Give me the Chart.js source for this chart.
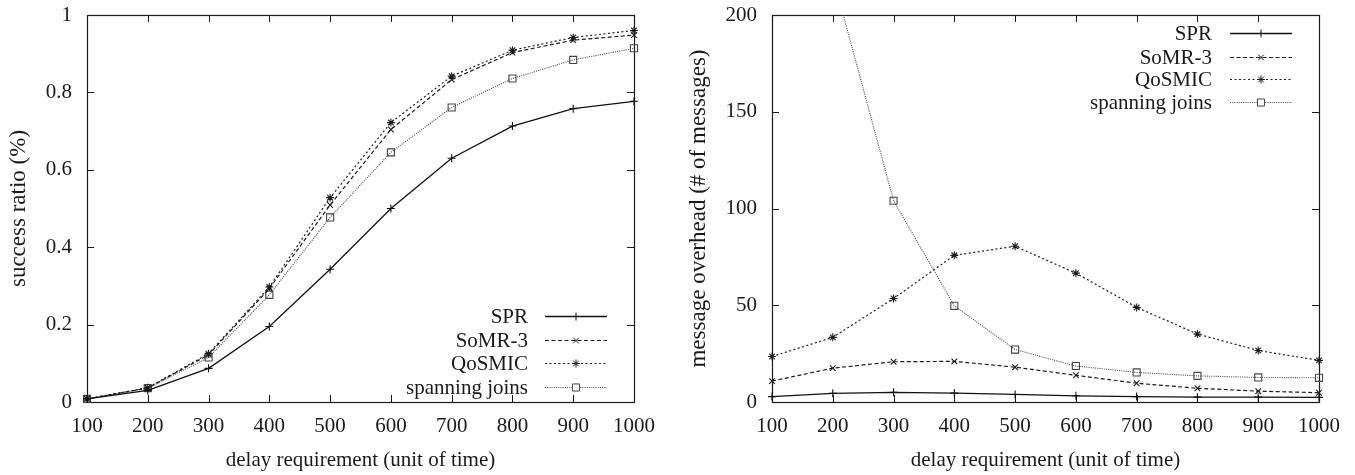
<!DOCTYPE html>
<html>
<head>
<meta charset="utf-8">
<script src="https://cdn.jsdelivr.net/npm/chart.js@4/dist/chart.umd.min.js"></script>
<style>
  html, body { margin: 0; padding: 0; background: #fff; }
  #wrap { position: relative; width: 1355px; height: 475px; }
  #c1 { position: absolute; left: 0; top: 0; }
  #c2 { position: absolute; left: 680px; top: 0; }
</style>
</head>
<body>
<div id="wrap">
  <canvas id="c1" width="680" height="475"></canvas>
  <canvas id="c2" width="675" height="475"></canvas>
</div>
<script>
// ---------- data ----------
const delays = [100, 200, 300, 400, 500, 600, 700, 800, 900, 1000];
const seriesNames = ['SPR', 'SoMR-3', 'QoSMIC', 'spanning joins'];

// success ratio
const successSPR      = [0.008, 0.030, 0.087, 0.195, 0.343, 0.500, 0.630, 0.713, 0.758, 0.777];
const successSoMR3    = [0.008, 0.036, 0.122, 0.293, 0.509, 0.704, 0.833, 0.903, 0.935, 0.948];
const successQoSMIC   = [0.008, 0.037, 0.125, 0.297, 0.528, 0.722, 0.842, 0.909, 0.942, 0.960];
const successSpanning = [0.008, 0.036, 0.115, 0.277, 0.477, 0.645, 0.761, 0.836, 0.884, 0.914];

// message overhead
const overheadSPR      = [2.8, 4.5, 5.0, 4.6, 3.9, 3.2, 2.8, 2.5, 2.5, 2.4];
const overheadSoMR3    = [10.8, 17.5, 20.8, 21.0, 18.0, 13.8, 9.7, 7.1, 5.6, 4.8];
const overheadQoSMIC   = [23.5, 33.4, 53.5, 75.8, 80.5, 66.6, 48.9, 35.1, 26.6, 21.5];
const overheadSpanning = [400, 220, 104, 49.7, 27.1, 18.6, 15.3, 13.5, 12.7, 12.5];

// tick labels
const xTickValues = delays;
const yTicksSuccess = [0, 0.2, 0.4, 0.6, 0.8, 1];
const yTickLabelsSuccess = ['0', '0.2', '0.4', '0.6', '0.8', '1'];
const yTicksOverhead = [0, 50, 100, 150, 200];
const yTickLabelsOverhead = ['0', '50', '100', '150', '200'];

const xTitle = 'delay requirement (unit of time)';
const yTitleSuccess = 'success ratio (%)';
const yTitleOverhead = 'message overhead (# of messages)';

// ---------- styles ----------
const FONT = "'Liberation Serif', 'DejaVu Serif', serif";
const INK = '#1a1a1a';
const styles = [
  { color: '#111', dash: [], width: 1.3, pointStyle: 'cross', radius: 4 },
  { color: '#1c1c1c', dash: [4, 2.5], width: 1.2, pointStyle: 'crossRot', radius: 4 },
  { color: '#1c1c1c', dash: [2, 2.5], width: 1.2, pointStyle: 'star', radius: 4 },
  { color: '#444', dash: [1, 1.2], width: 1.1, pointStyle: 'rect', radius: 5 }
];

function makeDatasets(arrays) {
  return arrays.map((arr, i) => ({
    label: seriesNames[i],
    data: arr,
    borderColor: styles[i].color,
    backgroundColor: 'rgba(0,0,0,0)',
    borderWidth: styles[i].width,
    borderDash: styles[i].dash,
    pointStyle: styles[i].pointStyle,
    pointRadius: styles[i].radius,
    pointBorderColor: styles[i].color,
    pointBackgroundColor: 'rgba(0,0,0,0)',
    pointBorderWidth: 1.1,
    tension: 0,
    fill: false,
    clip: { left: 10, right: 10, top: 0, bottom: 10 }
  }));
}

// frame with inward mirrored ticks
const framePlugin = {
  id: 'gnuframe',
  beforeDatasetsDraw(chart) {
    const { ctx, chartArea: a, scales } = chart;
    ctx.save();
    ctx.strokeStyle = INK;
    ctx.lineWidth = 1.2;
    ctx.setLineDash([]);
    ctx.strokeRect(Math.round(a.left) + 0.5, Math.round(a.top) + 0.5,
                   Math.round(a.right - a.left), Math.round(a.bottom - a.top));
    const tl = 7;
    ctx.lineWidth = 1;
    ctx.beginPath();
    scales.x.ticks.forEach((t, i) => {
      const px = Math.round(scales.x.getPixelForTick(i)) + 0.5;
      ctx.moveTo(px, a.bottom); ctx.lineTo(px, a.bottom - tl);
      ctx.moveTo(px, a.top); ctx.lineTo(px, a.top + tl);
    });
    scales.y.ticks.forEach((t, i) => {
      const py = Math.round(scales.y.getPixelForTick(i)) + 0.5;
      ctx.moveTo(a.left, py); ctx.lineTo(a.left + tl, py);
      ctx.moveTo(a.right, py); ctx.lineTo(a.right - tl, py);
    });
    ctx.stroke();
    ctx.restore();
  }
};

function drawMarker(ctx, style, x, y) {
  if (Chart.helpers && Chart.helpers.drawPoint) {
    Chart.helpers.drawPoint(ctx, { pointStyle: style.pointStyle, radius: style.radius, borderWidth: 1.1, rotation: 0 }, x, y);
  }
}

// gnuplot-like legend inside the plot
const legendPlugin = {
  id: 'gnulegend',
  afterDatasetsDraw(chart, args, opts) {
    const { ctx, chartArea: a } = chart;
    ctx.save();
    ctx.font = '21px ' + FONT;
    ctx.textAlign = 'right';
    ctx.textBaseline = 'middle';
    chart.data.datasets.forEach((ds, i) => {
      const st = styles[i];
      const y = opts.anchor === 'bottom' ? a.bottom - opts.rows[i] : a.top + opts.rows[i];
      ctx.fillStyle = INK;
      ctx.fillText(ds.label, a.right - opts.textRight, y + 1);
      const x1 = a.right - opts.lineStart, x2 = a.right - opts.lineEnd;
      ctx.strokeStyle = st.color;
      ctx.lineWidth = st.width;
      ctx.setLineDash(st.dash);
      ctx.beginPath();
      ctx.moveTo(x1, y + 0.5); ctx.lineTo(x2, y + 0.5);
      ctx.stroke();
      ctx.setLineDash([]);
      ctx.lineWidth = 1;
      ctx.strokeStyle = st.color;
      ctx.fillStyle = '#fff';
      drawMarker(ctx, st, (x1 + x2) / 2, y + 0.5);
    });
    ctx.restore();
  }
};

function makeChart(id, arrays, yTicks, yLabels, yTitle, yWidth, rightPad, legendOpts) {
  const yMin = yTicks[0], yMax = yTicks[yTicks.length - 1];
  return new Chart(document.getElementById(id), {
    type: 'line',
    data: { labels: xTickValues, datasets: makeDatasets(arrays) },
    plugins: [framePlugin, legendPlugin],
    options: {
      responsive: false,
      animation: false,
      layout: { padding: { left: 0, right: rightPad, top: 15, bottom: 0 } },
      plugins: {
        legend: { display: false },
        tooltip: { enabled: false },
        gnulegend: legendOpts
      },
      scales: {
        x: {
          type: 'category',
          offset: false,
          grid: { display: false, drawTicks: false },
          border: { display: false },
          ticks: {
            color: INK, font: { family: FONT, size: 21 }, padding: 12,
            maxRotation: 0, autoSkip: false
          },
          title: {
            display: true, text: xTitle, color: INK,
            font: { family: FONT, size: 21 }, padding: { top: 0, bottom: 2 }
          },
          afterFit(s) { s.height = 73; s.paddingLeft = 0; s.paddingRight = 0; }
        },
        y: {
          type: 'linear',
          min: yMin, max: yMax,
          grid: { display: false, drawTicks: false },
          border: { display: false },
          afterBuildTicks(s) { s.ticks = yTicks.map(v => ({ value: v })); },
          ticks: {
            color: INK, font: { family: FONT, size: 21 }, padding: 15,
            callback(v) { const k = yTicks.indexOf(v); return k >= 0 ? yLabels[k] : ''; }
          },
          title: {
            display: true, text: yTitle, color: INK,
            font: { family: FONT, size: 23 }, padding: { top: 5, bottom: 0 }
          },
          afterFit(s) { s.width = yWidth; s.paddingTop = 0; s.paddingBottom = 0; }
        }
      }
    }
  });
}

makeChart('c1', [successSPR, successSoMR3, successQoSMIC, successSpanning],
  yTicksSuccess, yTickLabelsSuccess, yTitleSuccess, 87, 46,
  { anchor: 'bottom', rows: [86, 62, 39, 15], textRight: 106, lineStart: 89, lineEnd: 27 });

makeChart('c2', [overheadSPR, overheadSoMR3, overheadQoSMIC, overheadSpanning],
  yTicksOverhead, yTickLabelsOverhead, yTitleOverhead, 92, 36,
  { anchor: 'top', rows: [18, 42, 64, 87], textRight: 107, lineStart: 89, lineEnd: 27 });
</script>
</body>
</html>
